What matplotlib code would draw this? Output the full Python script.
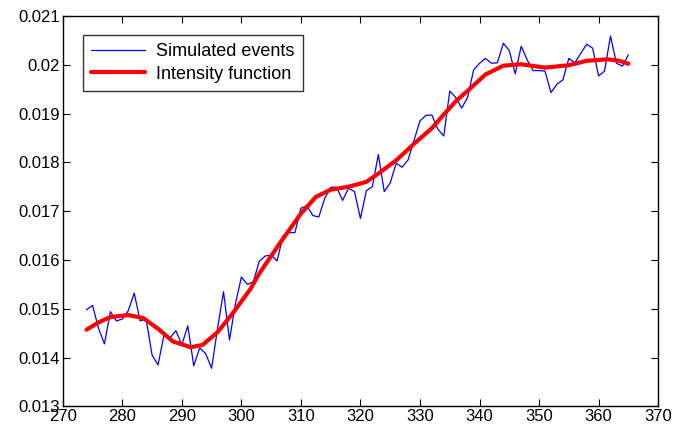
import matplotlib
matplotlib.use("Agg")
import matplotlib.pyplot as plt

plt.rcParams['font.family'] = ['Liberation Sans', 'DejaVu Sans']

# simulated events, one value per day 274..365
days = list(range(274, 366))
events = [
    0.01498, 0.01507, 0.01460, 0.01428, 0.01494, 0.01475, 0.01479, 0.01496,
    0.01532, 0.01475, 0.01479, 0.01405, 0.01385, 0.01446, 0.01440, 0.01455,
    0.01426, 0.01465, 0.01383, 0.01420, 0.01408, 0.01378, 0.01460, 0.01535,
    0.01436, 0.01510, 0.01565, 0.01550, 0.01555, 0.01597, 0.01608, 0.01610,
    0.01598, 0.01649, 0.01656, 0.01656, 0.01706, 0.01711, 0.01691, 0.01688,
    0.01726, 0.01749, 0.01749, 0.01722, 0.01747, 0.01740, 0.01685, 0.01742,
    0.01750, 0.01816, 0.01740, 0.01758, 0.01798, 0.01790, 0.01805, 0.01845,
    0.01885, 0.01896, 0.01897, 0.01868, 0.01854, 0.01946, 0.01933, 0.01911,
    0.01933, 0.01989, 0.02003, 0.02013, 0.02003, 0.02004, 0.02044, 0.02029,
    0.01981, 0.02038, 0.02010, 0.01988, 0.01988, 0.01987, 0.01943, 0.01960,
    0.01969, 0.02013, 0.02004, 0.02023, 0.02042, 0.02034, 0.01977, 0.01987,
    0.02059, 0.02003, 0.01997, 0.02020,
]

# intensity function, read at a coarser set of days
int_days = [274, 276, 278, 281, 283.5, 286, 288.5, 291.5, 293.5, 296, 298.5,
            301.5, 303, 306.5, 310, 312.5, 315, 318, 321, 323, 326, 329, 332,
            334, 336, 338.5, 341, 344, 347, 351, 355, 358, 361.5, 363.5, 365]
intensity = [0.01457, 0.01472, 0.01483, 0.01487, 0.01481, 0.01459, 0.01433,
             0.01421, 0.01426, 0.01452, 0.01490, 0.01540, 0.01572, 0.01635,
             0.01695, 0.01729, 0.01744, 0.01750, 0.01760, 0.01777, 0.01804,
             0.01838, 0.01870, 0.01898, 0.01925, 0.01952, 0.01980, 0.01998,
             0.02001, 0.01994, 0.01999, 0.02008, 0.02011, 0.02008, 0.02002]

fig = plt.figure(figsize=(6.75, 4.3), dpi=100)
ax = fig.add_axes([0.093, 0.055, 0.882, 0.908])

ax.plot(days, events, color='#0000ff', linewidth=0.9, label='Simulated events')
ax.plot(int_days, intensity, color='#ff0000', linewidth=3.0,
        solid_joinstyle='round', solid_capstyle='round', label='Intensity function')

ax.set_xlim(270, 370)
ax.set_ylim(0.013, 0.021)
ax.set_xticks(range(270, 371, 10))
ax.set_yticks([0.013, 0.014, 0.015, 0.016, 0.017, 0.018, 0.019, 0.020, 0.021])
ax.set_yticklabels(['0.013', '0.014', '0.015', '0.016', '0.017', '0.018',
                    '0.019', '0.02', '0.021'])
ax.tick_params(direction='in', top=True, right=True, length=5, width=0.8,
               labelsize=12, pad=2)
for s in ax.spines.values():
    s.set_linewidth(1.0)

leg = ax.legend(loc='upper left', bbox_to_anchor=(0.034, 0.951), fontsize=13,
                frameon=True, fancybox=False, edgecolor='black',
                handlelength=3.0, borderpad=0.45, labelspacing=0.3,
                handletextpad=0.6, borderaxespad=0)
leg.get_frame().set_linewidth(1.0)

fig.savefig('out.png', dpi=100)
